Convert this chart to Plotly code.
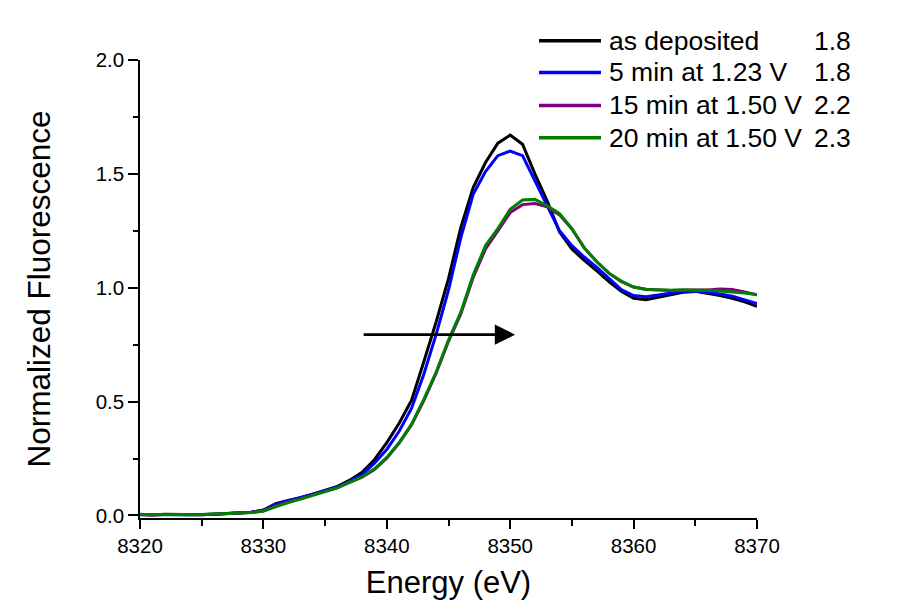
import plotly.graph_objects as go

energy = [8320, 8321, 8322, 8323, 8324, 8325, 8326, 8327, 8328, 8329,
          8330, 8331, 8332, 8333, 8334, 8335, 8336, 8337, 8338, 8339,
          8340, 8341, 8342, 8343, 8344, 8345, 8346, 8347, 8348, 8349,
          8350, 8351, 8352, 8353, 8354, 8355, 8356, 8357, 8358, 8359,
          8360, 8361, 8362, 8363, 8364, 8365, 8366, 8367, 8368, 8369, 8370]

as_deposited = [0.003, 0.002, 0.006, 0.004, 0.002, 0.003, 0.005, 0.008, 0.012, 0.014,
                0.024, 0.052, 0.066, 0.078, 0.094, 0.110, 0.128, 0.155, 0.190, 0.245,
                0.320, 0.405, 0.505, 0.675, 0.850, 1.040, 1.265, 1.440, 1.550, 1.635,
                1.670, 1.630, 1.500, 1.380, 1.245, 1.170, 1.120, 1.075, 1.027, 0.985,
                0.954, 0.947, 0.958, 0.970, 0.980, 0.984, 0.976, 0.966, 0.954, 0.938, 0.918]

min5_123 = [0.004, 0.003, 0.005, 0.004, 0.003, 0.003, 0.005, 0.008, 0.011, 0.014,
            0.023, 0.050, 0.064, 0.077, 0.093, 0.109, 0.125, 0.150, 0.180, 0.230,
            0.290, 0.370, 0.470, 0.620, 0.795, 0.990, 1.220, 1.410, 1.510, 1.580,
            1.600, 1.580, 1.470, 1.360, 1.250, 1.185, 1.135, 1.090, 1.040, 0.992,
            0.966, 0.961, 0.968, 0.978, 0.985, 0.986, 0.981, 0.973, 0.963, 0.948, 0.930]

min15_150 = [0.006, 0.002, 0.004, 0.003, 0.002, 0.004, 0.006, 0.009, 0.010, 0.013,
             0.020, 0.042, 0.058, 0.073, 0.090, 0.106, 0.122, 0.145, 0.168, 0.202,
             0.252, 0.318, 0.397, 0.505, 0.625, 0.765, 0.885, 1.045, 1.170, 1.250,
             1.330, 1.365, 1.370, 1.355, 1.320, 1.258, 1.175, 1.115, 1.064, 1.028,
             1.003, 0.993, 0.990, 0.988, 0.990, 0.990, 0.990, 0.995, 0.992, 0.982, 0.969]

min20_150 = [0.004, 0.003, 0.005, 0.003, 0.003, 0.004, 0.005, 0.009, 0.011, 0.013,
             0.020, 0.040, 0.057, 0.072, 0.089, 0.105, 0.121, 0.147, 0.170, 0.205,
             0.255, 0.320, 0.400, 0.510, 0.630, 0.770, 0.893, 1.056, 1.185, 1.260,
             1.345, 1.385, 1.388, 1.360, 1.325, 1.260, 1.175, 1.115, 1.064, 1.028,
             1.003, 0.992, 0.990, 0.989, 0.990, 0.990, 0.989, 0.986, 0.983, 0.977, 0.969]

series_names = ["as deposited", "5 min at 1.23 V", "15 min at 1.50 V", "20 min at 1.50 V"]
series_values = [as_deposited, min5_123, min15_150, min20_150]
series_colors = ["#000000", "#0000FF", "#800080", "#008000"]
oxidation_states = ["1.8", "1.8", "2.2", "2.3"]

arrow_start = (8338.0, 0.794)
arrow_end = (8350.4, 0.794)

FONT = "Arial, Liberation Sans, sans-serif"

W, H = 898, 606
ML, MR, MT, MB = 140, 141, 60, 85
PW, PH = W - ML - MR, H - MT - MB


def px_to_paper_x(px):
    return (px - ML) / PW


def px_to_paper_y(py):
    return (H - MB - py) / PH


fig = go.Figure()
for name, vals, col in zip(series_names, series_values, series_colors):
    fig.add_trace(go.Scatter(x=energy, y=vals, mode="lines", name=name,
                             line=dict(color=col, width=3), showlegend=False))

# arrow
fig.add_annotation(x=arrow_end[0], y=arrow_end[1], ax=arrow_start[0], ay=arrow_start[1],
                   xref="x", yref="y", axref="x", ayref="y", text="",
                   showarrow=True, arrowhead=2, arrowsize=1.45, arrowwidth=2.8,
                   arrowcolor="#000000")

# manual legend
legend_rows_py = [40.7, 72.5, 105.7, 138.3]
for name, col, ox, py in zip(series_names, series_colors, oxidation_states, legend_rows_py):
    yp = px_to_paper_y(py)
    fig.add_shape(type="line", xref="paper", yref="paper",
                  x0=px_to_paper_x(539), x1=px_to_paper_x(601), y0=yp, y1=yp,
                  line=dict(color=col, width=3.5))
    fig.add_annotation(xref="paper", yref="paper", x=px_to_paper_x(607), y=yp,
                       text=name, showarrow=False, xanchor="left", yanchor="middle",
                       font=dict(family=FONT, size=26.5, color="#000000"))
    fig.add_annotation(xref="paper", yref="paper", x=px_to_paper_x(812), y=yp,
                       text=ox, showarrow=False, xanchor="left", yanchor="middle",
                       font=dict(family=FONT, size=26.5, color="#000000"))

fig.update_layout(
    width=W, height=H,
    margin=dict(l=ML, r=MR, t=MT, b=MB, pad=0),
    paper_bgcolor="white", plot_bgcolor="white",
    font=dict(family=FONT, color="#000000"),
)

fig.update_xaxes(
    range=[8320, 8370], showgrid=False, zeroline=False,
    showline=True, linecolor="#000000", linewidth=1.5,
    ticks="outside", ticklen=9, tickwidth=1.5, tickcolor="#000000",
    tick0=8320, dtick=10, tickfont=dict(family=FONT, size=20.5),
    minor=dict(ticks="outside", ticklen=6, tickwidth=1.5, tickcolor="#000000", dtick=5, showgrid=False),
    title=dict(text="Energy (eV)", font=dict(family=FONT, size=31), standoff=15),
)
fig.update_yaxes(
    range=[-0.011, 2.0], showgrid=False, zeroline=False,
    showline=True, linecolor="#000000", linewidth=1.5,
    ticks="outside", ticklen=10, tickwidth=1.5, tickcolor="#000000",
    tick0=0, dtick=0.5, tickformat=".1f", tickfont=dict(family=FONT, size=20.5),
    minor=dict(ticks="outside", ticklen=5, tickwidth=1.5, tickcolor="#000000", dtick=0.25, showgrid=False),
    title=dict(text="Normalized Fluorescence", font=dict(family=FONT, size=31.5), standoff=36),
)

fig.write_html("out.html")
